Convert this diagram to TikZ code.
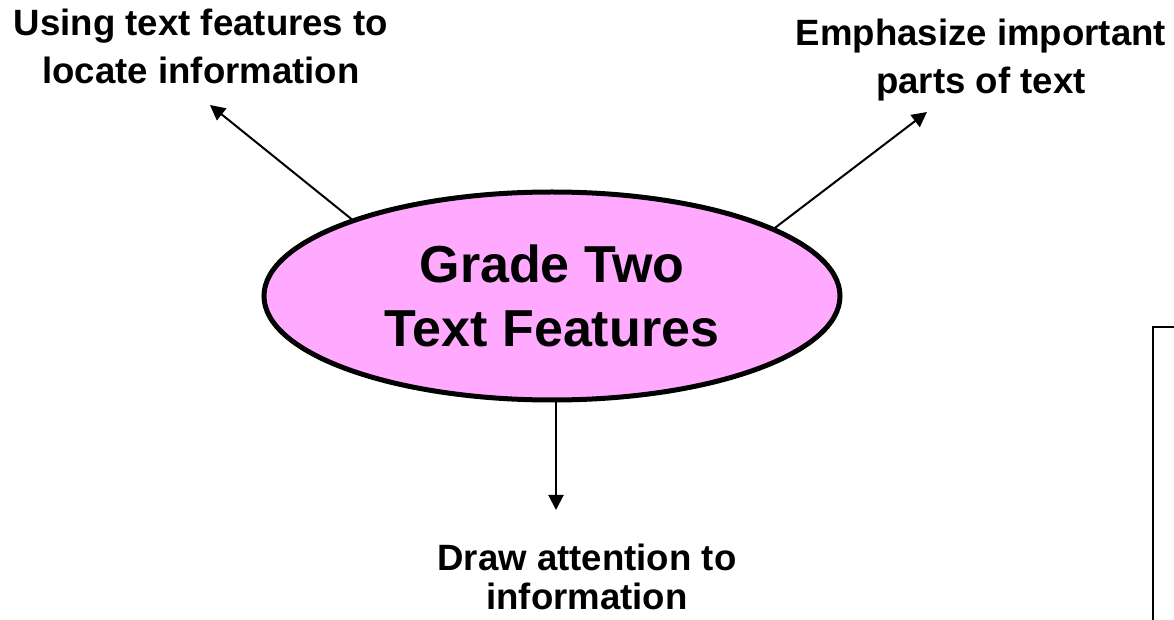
\documentclass[tikz,border=0pt]{standalone}
\usepackage{fontspec}
\setmainfont{Liberation Sans}
\usepackage{tikz}
\usetikzlibrary{arrows.meta,shapes,positioning,calc}
\usepackage{xcolor}
\definecolor{hubpink}{RGB}{255,170,255}
\tikzstyle{arrow} = [line width=1pt,-{Triangle[length=7.5pt,width=7.5pt]},color=black]
\tikzstyle{feature} = [inner sep=0pt, align=center, anchor=north, font=\bfseries\fontsize{18.3}{24}\selectfont]

\begin{document}
\begin{tikzpicture}[x=0.5pt, y=-0.5pt]
    \useasboundingbox (0,0) rectangle (1174,620);

    % Central ellipse
    \node[ellipse, draw, line width=2.5pt, fill=hubpink, inner sep=0pt,
          minimum width=288pt, minimum height=104pt, align=center,
          font=\bfseries\fontsize{26}{32}\selectfont] (hub) at (552,296) {Grade Two\\Text Features};

    % Feature labels
    \node[feature] (locate) at (201,9) {Using text features to\\locate information};
    \node[feature] (emph) at (981,19) {Emphasize important\\parts of text};
    \node[feature, font=\bfseries\fontsize{18.3}{19.5}\selectfont] (attn) at (587,544) {Draw attention to\\information};

    % Arrow tips
    \coordinate (tipL) at (210,105);
    \coordinate (tipR) at (927,112);
    \coordinate (tipD) at (556,510);

    % Arrows
    \draw[arrow] (hub.159) -- (tipL);
    \draw[arrow] (hub.17) -- (tipR);
    \draw[arrow] (hub.south -| tipD) -- (tipD);

    % Box at the right edge
    \draw[line width=1.3pt] (1180,327) -- (1153,327) -- (1153,630);
\end{tikzpicture}
\end{document}
